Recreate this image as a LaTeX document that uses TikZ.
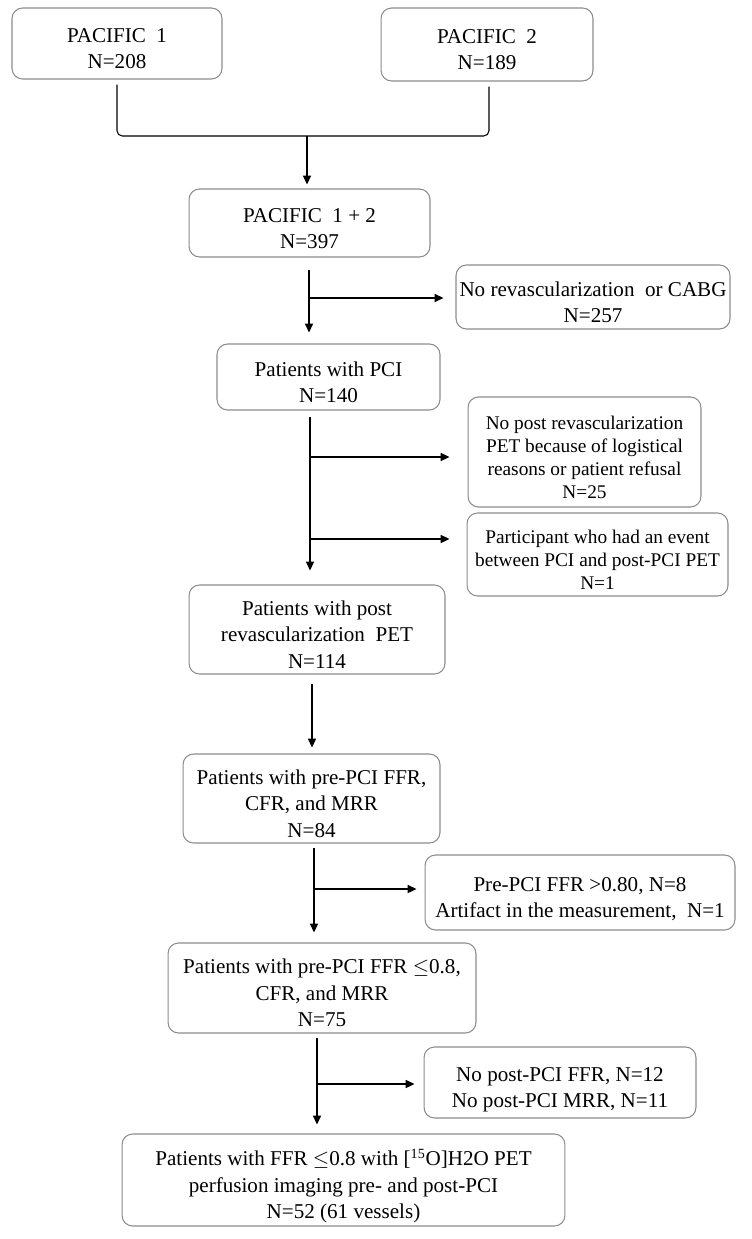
\documentclass[tikz,border=0pt]{standalone}
\usepackage{fontspec}
\setmainfont{Liberation Serif}
\usetikzlibrary{arrows.meta}
\newcommand{\bt}[1]{\smash{\raisebox{-7pt}{\begin{tabular}{@{}c@{}}#1\end{tabular}}}}
\tikzset{
  bx/.style   = {draw=black!45, line width=0.6pt, rounded corners=6pt,
                 inner sep=2pt, font=\fontsize{12}{15}\selectfont},
  sm/.style   = {font=\fontsize{11}{13}\selectfont},
  flow/.style = {->, line width=1pt},
  brk/.style  = {line width=0.6pt, rounded corners=3pt},
}

\begin{document}
\begin{tikzpicture}[x=0.02cm, y=-0.02cm, >={Triangle[length=5pt,width=4.5pt]}]

  \useasboundingbox (0,0) rectangle (751,1239);

  % ===== boxes ==========================================================
  \node[bx, minimum width=4.2cm,  minimum height=1.42cm] (p1)    at (117,43.5)   {\bt{PACIFIC\ \ 1\\N=208}};
  \node[bx, minimum width=4.24cm, minimum height=1.46cm] (p2)    at (487,44.5)   {\bt{PACIFIC\ \ 2\\N=189}};
  \node[bx, minimum width=4.82cm, minimum height=1.36cm] (pall)  at (309.5,223)  {\bt{PACIFIC\ \ 1 + 2\\N=397}};
  \node[bx, minimum width=5.36cm, minimum height=1.28cm] (norev) at (593,297)    {\bt{No revascularization\ \ or CABG\\N=257}};
  \node[bx, minimum width=4.46cm, minimum height=1.32cm] (pci)   at (328.5,377)  {\bt{Patients with PCI\\N=140}};
  \node[bx, sm, minimum width=4.66cm, minimum height=2.2cm]  (nopet) at (584.5,452)
       {\bt{No post revascularization\\PET because of logistical\\reasons or patient refusal\\N=25}};
  \node[bx, sm, minimum width=5.22cm, minimum height=1.66cm] (event) at (597.5,554.5)
       {\bt{Participant who had an event\\between PCI and post-PCI PET\\N=1}};
  \node[bx, minimum width=5.12cm, minimum height=1.78cm] (post)  at (317,629.5)
       {\bt{Patients with post\\revascularization\ \ PET\\N=114}};
  \node[bx, minimum width=5.14cm, minimum height=1.78cm] (pre)   at (311.5,798.5)
       {\bt{Patients with pre-PCI FFR,\\CFR, and MRR\\N=84}};
  \node[bx, minimum width=6.2cm,  minimum height=1.5cm]  (excl)  at (580,892.5)
       {\bt{Pre-PCI FFR >0.80, N=8\\Artifact in the measurement,\ \ N=1}};
  \node[bx, minimum width=6.16cm, minimum height=1.8cm]  (ffr)   at (322,988)
       {\bt{Patients with pre-PCI FFR $\le$0.8,\\CFR, and MRR\\N=75}};
  \node[bx, minimum width=5.44cm, minimum height=1.42cm] (noffr) at (560,1082.5)
       {\bt{No post-PCI FFR, N=12\\No post-PCI MRR, N=11}};
  \node[bx, minimum width=8.86cm, minimum height=1.84cm] (final) at (343.5,1180)
       {\bt{Patients with FFR $\le$0.8 with [\textsuperscript{15}O]H2O PET\\perfusion imaging pre- and post-PCI\\N=52 (61 vessels)}};

  % ===== merging the two trials =========================================
  \coordinate (jn) at (307,136);
  \draw[brk] ([yshift=-0.1cm]p1.south) |- (jn) -| ([xshift=0.04cm,yshift=-0.1cm]p2.south);
  \draw[flow, shorten >=0.08cm] (jn) -- (jn |- pall.north);

  % ===== main trunk with exclusions =====================================
  \coordinate (k1) at (309,0);   \coordinate (b1) at (309,298);
  \draw[flow, shorten <=0.24cm, shorten >=0.22cm] (k1 |- pall.south) -- (k1 |- pci.north);
  \draw[flow, shorten >=0.24cm] (b1) -- (b1 -| norev.west);

  \coordinate (k2) at (310,0);   \coordinate (b2) at (310,457);   \coordinate (b3) at (310,539);
  \draw[flow, shorten <=0.12cm, shorten >=0.28cm] (k2 |- pci.south) -- (k2 |- post.north);
  \draw[flow, shorten >=0.36cm] (b2) -- (b2 -| nopet.west);
  \draw[flow, shorten >=0.34cm] (b3) -- (b3 -| event.west);

  \coordinate (k3) at (312,0);
  \draw[flow, shorten <=0.18cm, shorten >=0.12cm] (k3 |- post.south) -- (k3 |- pre.north);

  \coordinate (k4) at (314,0);   \coordinate (b4) at (314,889);
  \draw[flow, shorten <=0.08cm, shorten >=0.2cm] (k4 |- pre.south) -- (k4 |- ffr.north);
  \draw[flow, shorten >=0.16cm] (b4) -- (b4 -| excl.west);

  \coordinate (k5) at (317,0);   \coordinate (b5) at (317,1084);
  \draw[flow, shorten <=0.08cm, shorten >=0.18cm] (k5 |- ffr.south) -- (k5 |- final.north);
  \draw[flow, shorten >=0.18cm] (b5) -- (b5 -| noffr.west);

\end{tikzpicture}
\end{document}
